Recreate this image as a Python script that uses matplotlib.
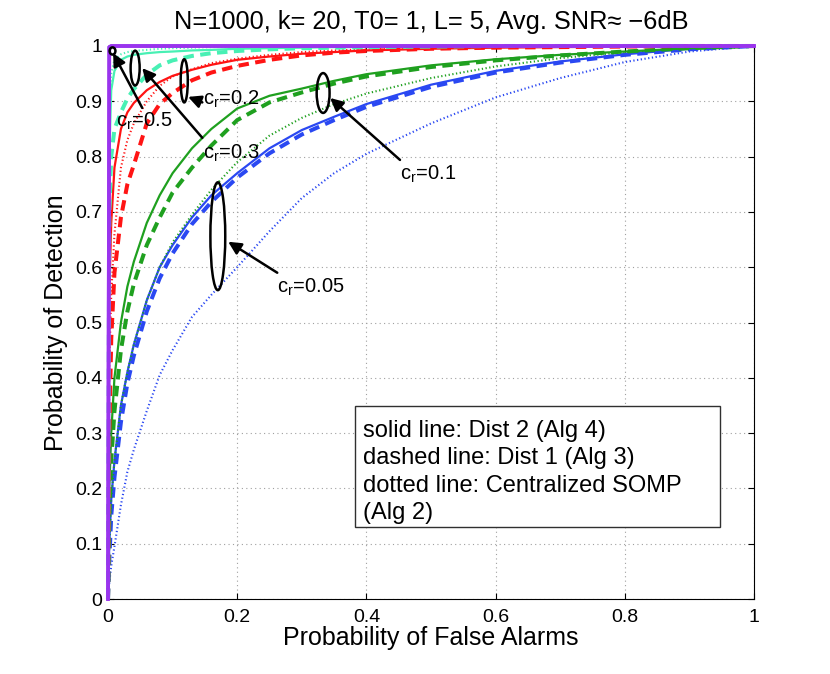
import matplotlib
matplotlib.use('Agg')
import matplotlib.pyplot as plt
from matplotlib.patches import Ellipse, Rectangle

plt.rcParams['font.family'] = ['Liberation Sans', 'DejaVu Sans']
plt.rcParams['mathtext.fontset'] = 'custom'
plt.rcParams['mathtext.rm'] = 'Liberation Sans'
plt.rcParams['mathtext.it'] = 'Liberation Sans'

# false alarm grid shared by all curves
pf = [0, 0.002, 0.005, 0.01, 0.02, 0.03, 0.04, 0.06, 0.08, 0.1, 0.13, 0.16,
      0.2, 0.25, 0.3, 0.35, 0.4, 0.5, 0.6, 0.7, 0.8, 0.9, 1.0]

# c_r = 0.05 (blue)
pd_c005_alg4 = [0, 0.10, 0.18, 0.25, 0.35, 0.41, 0.46, 0.54, 0.60, 0.64, 0.69, 0.73,
                0.77, 0.815, 0.848, 0.872, 0.895, 0.93, 0.955, 0.972, 0.985, 0.995, 1.0]
pd_c005_alg3 = [0, 0.07, 0.15, 0.22, 0.32, 0.39, 0.44, 0.52, 0.58, 0.625, 0.678, 0.718,
                0.762, 0.806, 0.84, 0.866, 0.89, 0.926, 0.952, 0.97, 0.984, 0.994, 1.0]
pd_c005_alg2 = [0, 0.03, 0.06, 0.095, 0.17, 0.23, 0.27, 0.34, 0.405, 0.45, 0.51, 0.55,
                0.60, 0.665, 0.725, 0.77, 0.805, 0.86, 0.907, 0.942, 0.971, 0.99, 1.0]
# c_r = 0.1 (green)
pd_c01_alg4 = [0, 0.20, 0.30, 0.40, 0.50, 0.565, 0.61, 0.68, 0.73, 0.77, 0.815, 0.85,
               0.887, 0.91, 0.923, 0.937, 0.949, 0.965, 0.976, 0.984, 0.99, 0.996, 1.0]
pd_c01_alg3 = [0, 0.15, 0.25, 0.34, 0.45, 0.52, 0.57, 0.64, 0.69, 0.735, 0.78, 0.82,
               0.866, 0.898, 0.916, 0.932, 0.945, 0.962, 0.974, 0.983, 0.99, 0.996, 1.0]
pd_c01_alg2 = [0, 0.10, 0.18, 0.25, 0.35, 0.41, 0.46, 0.54, 0.60, 0.645, 0.695, 0.74,
               0.79, 0.838, 0.87, 0.895, 0.914, 0.942, 0.963, 0.978, 0.989, 0.996, 1.0]
# c_r = 0.2 (red)
pd_c02_alg4 = [0, 0.55, 0.68, 0.78, 0.85, 0.88, 0.897, 0.92, 0.935, 0.946, 0.957, 0.966,
               0.975, 0.981, 0.986, 0.989, 0.992, 0.995, 0.997, 0.998, 0.999, 1.0, 1.0]
pd_c02_alg3 = [0, 0.30, 0.47, 0.59, 0.69, 0.75, 0.785, 0.86, 0.895, 0.915, 0.938, 0.952,
               0.964, 0.975, 0.983, 0.988, 0.991, 0.995, 0.997, 0.998, 0.999, 1.0, 1.0]
pd_c02_alg2 = [0, 0.42, 0.55, 0.66, 0.78, 0.83, 0.86, 0.90, 0.928, 0.945, 0.958, 0.969,
               0.977, 0.984, 0.989, 0.992, 0.994, 0.997, 0.998, 0.999, 1.0, 1.0, 1.0]
# c_r = 0.3 (aquamarine)
pd_c03_alg4 = [0, 0.80, 0.92, 0.955, 0.975, 0.981, 0.984, 0.987, 0.989, 0.99, 0.992, 0.993,
               0.995, 0.996, 0.997, 0.998, 0.998, 0.999, 1.0, 1.0, 1.0, 1.0, 1.0]
pd_c03_alg3 = [0, 0.70, 0.80, 0.85, 0.88, 0.905, 0.922, 0.948, 0.965, 0.974, 0.982, 0.987,
               0.991, 0.994, 0.996, 0.997, 0.998, 0.999, 1.0, 1.0, 1.0, 1.0, 1.0]
pd_c03_alg2 = [0, 0.88, 0.95, 0.975, 0.985, 0.989, 0.991, 0.993, 0.995, 0.996, 0.997, 0.998,
               0.999, 0.999, 1.0, 1.0, 1.0, 1.0, 1.0, 1.0, 1.0, 1.0, 1.0]
# c_r = 0.5 (purple)
pd_c05_alg4 = [0, 0.998, 1.0, 1.0, 1.0, 1.0, 1.0, 1.0, 1.0, 1.0, 1.0, 1.0,
               1.0, 1.0, 1.0, 1.0, 1.0, 1.0, 1.0, 1.0, 1.0, 1.0, 1.0]
pd_c05_alg3 = pd_c05_alg4
pd_c05_alg2 = pd_c05_alg4

title = 'N=1000, k= 20, T0= 1, L= 5, Avg. SNR\u2248 \u22126dB'
note_lines = ['solid line: Dist 2 (Alg 4)', 'dashed line: Dist 1 (Alg 3)',
              'dotted line: Centralized SOMP', '(Alg 2)']
cr_labels = ['0.05', '0.1', '0.2', '0.3', '0.5']

blue, green, red, aqua, purple = '#2a48f2', '#1fa01f', '#ff1414', '#48f0b4', '#9a34ee'

SOLID = dict(ls='-', lw=1.6)
DASHED = dict(ls=(0, (2.6, 1.6)), lw=2.9)
DOTTED = dict(ls=(0, (0.6, 1.2)), lw=1.5)

curves = [
    (pd_c005_alg2, blue, DOTTED), (pd_c005_alg3, blue, DASHED), (pd_c005_alg4, blue, SOLID),
    (pd_c01_alg2, green, DOTTED), (pd_c01_alg3, green, DASHED), (pd_c01_alg4, green, SOLID),
    (pd_c02_alg2, red, DOTTED), (pd_c02_alg3, red, DASHED), (pd_c02_alg4, red, SOLID),
    (pd_c03_alg2, aqua, DOTTED), (pd_c03_alg3, aqua, DASHED), (pd_c03_alg4, aqua, SOLID),
    (pd_c05_alg3, purple, dict(ls='-', lw=2.6)), (pd_c05_alg2, purple, DOTTED),
    (pd_c05_alg4, purple, dict(ls='-', lw=2.6)),
]

fig = plt.figure(figsize=(8.3, 6.74), dpi=100)
ax = fig.add_axes([108 / 830, 75 / 674, 646 / 830, 553 / 674])

for pd, col, st in curves:
    ax.plot(pf, pd, color=col, clip_on=False, zorder=3, **st)

ax.set_xlim(0, 1)
ax.set_ylim(0, 1)
ax.set_xticks([0, 0.2, 0.4, 0.6, 0.8, 1])
ax.set_xticklabels(['0', '0.2', '0.4', '0.6', '0.8', '1'])
ax.set_yticks([i / 10 for i in range(11)])
ax.set_yticklabels(['0'] + ['%.1f' % (i / 10) for i in range(1, 10)] + ['1'])
ax.grid(True, ls=(0, (1, 3)), color='#a0a0a0', lw=0.8)
ax.tick_params(direction='in', top=True, right=True, length=4, labelsize=14)
ax.tick_params(axis='x', pad=7)
ax.tick_params(axis='y', pad=4)

ax.set_xlabel('Probability of False Alarms', fontsize=18, labelpad=0)
ax.set_ylabel('Probability of Detection', fontsize=18, labelpad=5)
ax.set_title(title, fontsize=18.3, pad=12)

# ellipses grouping each c_r family: (x, y, w, h)
ell_x = [0.170, 0.333, 0.118, 0.042, 0.007]
ell_y = [0.656, 0.915, 0.937, 0.960, 0.991]
ell_w = [0.023, 0.020, 0.011, 0.014, 0.009]
ell_h = [0.195, 0.072, 0.078, 0.063, 0.013]
for x, y, w, h in zip(ell_x, ell_y, ell_w, ell_h):
    ax.add_patch(Ellipse((x, y), w, h, fill=False, ec='k', lw=1.8, zorder=5, clip_on=False))

# arrows: tail -> head, and label positions
tail_x = [0.262, 0.452, 0.146, 0.146, 0.053]
tail_y = [0.590, 0.794, 0.898, 0.834, 0.888]
head_x = [0.186, 0.344, 0.124, 0.053, 0.008]
head_y = [0.646, 0.906, 0.908, 0.960, 0.987]
lab_x = [0.262, 0.452, 0.147, 0.147, 0.012]
lab_y = [0.553, 0.758, 0.893, 0.797, 0.854]
for i, c in enumerate(cr_labels):
    ax.annotate('', xy=(head_x[i], head_y[i]), xytext=(tail_x[i], tail_y[i]),
                arrowprops=dict(arrowstyle='-|>', color='k', lw=1.8, mutation_scale=19,
                                shrinkA=0, shrinkB=0), zorder=6)
    ax.text(lab_x[i], lab_y[i], 'c$_\\mathregular{r}$=' + c, fontsize=14.5,
            va='baseline', ha='left', zorder=6)

# note box
ax.add_patch(Rectangle((0.382, 0.130), 0.565, 0.219, fill=True, fc='white', ec='#303030',
                       lw=1.0, zorder=4))
for i, s in enumerate(note_lines):
    ax.text(0.394, 0.293 - i * 0.0497, s, fontsize=17, va='baseline', ha='left', zorder=5)

fig.savefig('out.png', dpi=100)
